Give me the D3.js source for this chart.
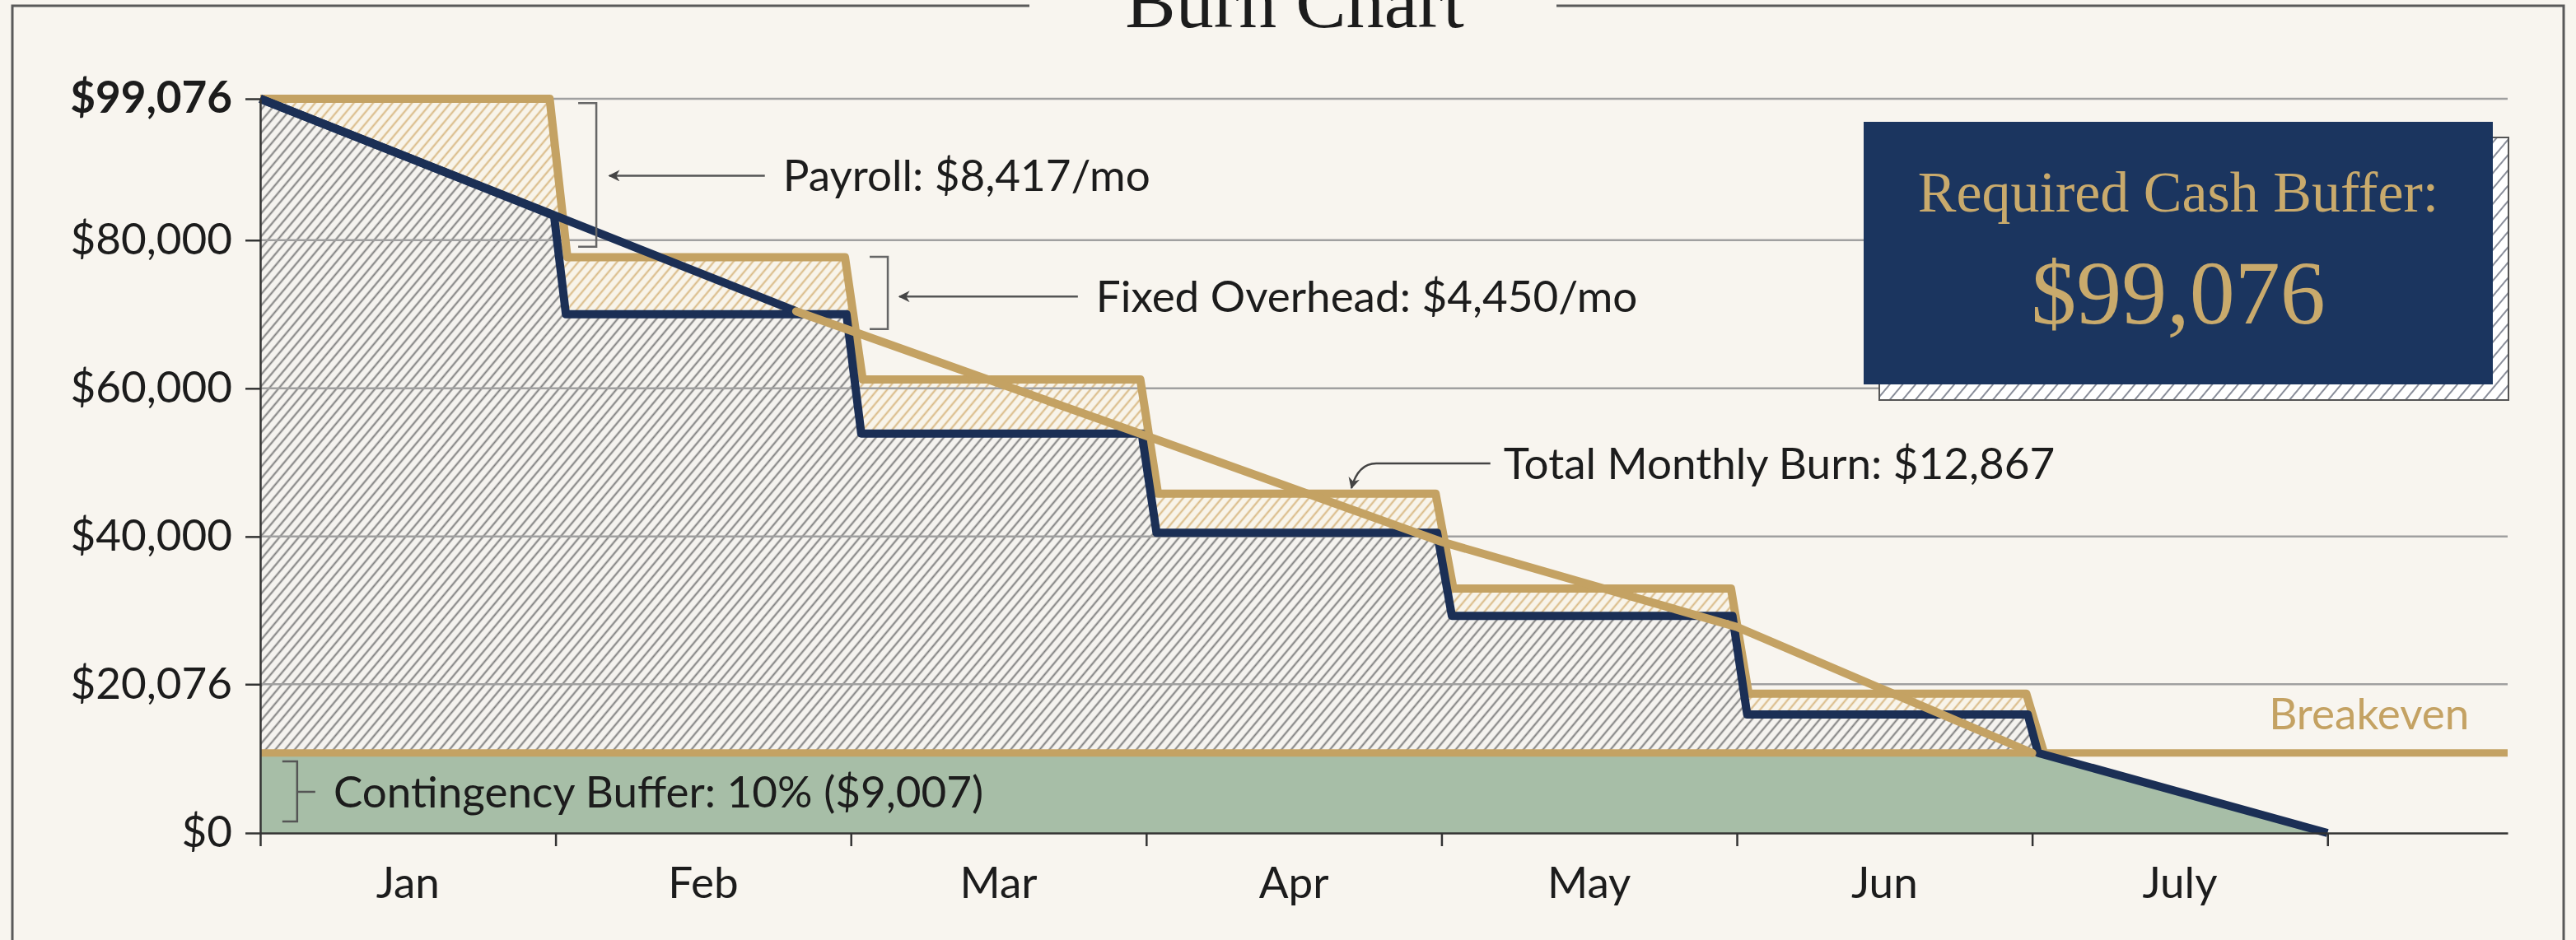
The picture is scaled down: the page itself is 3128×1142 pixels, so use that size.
<!DOCTYPE html>
<html>
<head>
<meta charset="utf-8">
<script src="https://cdn.jsdelivr.net/npm/d3@7"></script>
<style>
  body { margin: 0; background: #f8f5ef; }
  svg { display: block; }
</style>
</head>
<body>
<script>
const months = ['Jan', 'Feb', 'Mar', 'Apr', 'May', 'Jun', 'July'];
const yTickValues = [0, 20076, 40000, 60000, 80000, 99076];
const startCash = 99076;
const breakeven = 10800;
// gold steps: cash on hand at the top of each month (Jan..Jun)
const goldSteps = [99076, 77700, 61200, 45800, 33000, 18800];
// navy steps: balance after the month's spend (Feb..Jun), Jan is a slope
const navyJanEnd = 83300;
const navySteps = [70000, 53900, 40500, 29300, 16000];
// straight burn line, [month, value]
const trendNavy = [[0, 99076], [1, 83300], [1.815, 70400]];
const trendGold = [[1.815, 70400], [3, 53600], [4, 39300], [5, 27800], [6, 10800]];
const runwayEnd = [7, 0];

const width = 3128;
const height = 1142;
const font = 'Lato, "Open Sans", sans-serif';
const serif = '"Liberation Serif", "DejaVu Serif", serif';
const labelSize = 53;
const navy = '#1b2f55';
const gold = '#c4a263';
const ink = '#1c1c1c';

const x = d3.scaleLinear([0, 7.61], [316, 3045]);
const y = d3.scaleLinear([0, startCash], [1012, 120]);

// build the two step lines
const goldPts = [[0, goldSteps[0]]];
goldSteps.forEach((v, i) => {
  if (i > 0) goldPts.push([i + 0.04, v]);
  goldPts.push([i + 1 - 0.02, v]);
});
goldPts.push([6.04, breakeven]);

const navyPts = [[0, startCash], [0.995, navyJanEnd]];
navySteps.forEach((v, i) => {
  navyPts.push([i + 1.035, v]);
  navyPts.push([i + 1.985, v]);
});
navyPts.push([6.02, breakeven]);
navyPts.push(runwayEnd);

const bufferPts = [[0, breakeven], [6.02, breakeven], runwayEnd];

const line = d3.line().x(d => x(d[0])).y(d => y(d[1]));
const area = d3.area().x(d => x(d[0])).y0(y(0)).y1(d => y(d[1]));

const svg = d3.create('svg')
  .attr('width', width)
  .attr('height', height)
  .style('background', '#f8f5ef');

const defs = svg.append('defs');

function hatch(id, stroke, bg, gap, sw) {
  const p = defs.append('pattern')
    .attr('id', id)
    .attr('patternUnits', 'userSpaceOnUse')
    .attr('width', gap)
    .attr('height', gap)
    .attr('patternTransform', 'rotate(40)');
  p.append('rect').attr('width', gap).attr('height', gap).attr('fill', bg);
  p.append('line')
    .attr('x1', gap / 2).attr('x2', gap / 2)
    .attr('y1', 0).attr('y2', gap)
    .attr('stroke', stroke)
    .attr('stroke-width', sw);
}
hatch('hGray', '#7c7c7c', '#f5f3ef', 9, 2);
hatch('hTan', '#d8b883', '#f8f4ea', 9, 2);
hatch('hBox', '#6b7180', '#ffffff', 12, 1.6);

defs.append('marker')
  .attr('id', 'arrow')
  .attr('viewBox', '0 0 10 10')
  .attr('refX', 9)
  .attr('refY', 5)
  .attr('markerUnits', 'userSpaceOnUse')
  .attr('markerWidth', 18)
  .attr('markerHeight', 14)
  .attr('orient', 'auto')
  .append('path')
  .attr('d', 'M0,0 L10,5 L0,10 L3,5 Z')
  .attr('fill', '#444');

// outer frame with a gap for the title
const frame = d3.path();
frame.moveTo(1250, 7); frame.lineTo(15, 7); frame.lineTo(15, height + 10);
frame.moveTo(1890, 7); frame.lineTo(3113, 7); frame.lineTo(3113, height + 10);
svg.append('path')
  .attr('d', frame.toString())
  .attr('fill', 'none')
  .attr('stroke', '#5a5a5a')
  .attr('stroke-width', 3);

svg.append('text')
  .attr('x', 1572)
  .attr('y', 33)
  .attr('text-anchor', 'middle')
  .attr('font-family', serif)
  .attr('font-size', 92)
  .attr('fill', ink)
  .text('Burn Chart');

// hatched fills
svg.append('path')
  .datum(goldPts)
  .attr('d', area)
  .attr('fill', 'url(#hTan)');

svg.append('path')
  .datum(navyPts)
  .attr('d', area)
  .attr('fill', 'url(#hGray)');

// gridlines
svg.append('g')
  .selectAll('line')
  .data(yTickValues.filter(d => d > 0))
  .join('line')
  .attr('x1', x(0))
  .attr('x2', x(7.61))
  .attr('y1', d => y(d))
  .attr('y2', d => y(d))
  .attr('stroke', '#a0a0a0')
  .attr('stroke-width', 2.5);

// contingency buffer
svg.append('path')
  .datum(bufferPts)
  .attr('d', area)
  .attr('fill', '#a7bea7');

// breakeven line
svg.append('line')
  .attr('x1', x(0))
  .attr('x2', x(7.61))
  .attr('y1', y(breakeven))
  .attr('y2', y(breakeven))
  .attr('stroke', gold)
  .attr('stroke-width', 9);

svg.append('path')
  .datum(goldPts)
  .attr('d', line)
  .attr('fill', 'none')
  .attr('stroke', gold)
  .attr('stroke-width', 10)
  .attr('stroke-linejoin', 'round');

svg.append('path')
  .datum(navyPts)
  .attr('d', line)
  .attr('fill', 'none')
  .attr('stroke', navy)
  .attr('stroke-width', 10)
  .attr('stroke-linejoin', 'round');

svg.append('path')
  .datum(trendNavy)
  .attr('d', line)
  .attr('fill', 'none')
  .attr('stroke', navy)
  .attr('stroke-width', 10);

svg.append('path')
  .datum(trendGold)
  .attr('d', line)
  .attr('fill', 'none')
  .attr('stroke', gold)
  .attr('stroke-width', 10)
  .attr('stroke-linecap', 'round');

// callouts with brackets
const callouts = [
  {label: 'Payroll: $8,417/mo', bx: 1.138, top: 98500, bottom: 79100, tip: 1.182, tx: 1.77, ty: 88700},
  {label: 'Fixed Overhead: $4,450/mo', bx: 2.125, top: 77750, bottom: 68000, tip: 2.164, tx: 2.83, ty: 72400},
];

const ann = svg.append('g');
callouts.forEach(c => {
  const b = d3.path();
  b.moveTo(x(c.bx) - 22, y(c.top));
  b.lineTo(x(c.bx), y(c.top));
  b.lineTo(x(c.bx), y(c.bottom));
  b.lineTo(x(c.bx) - 22, y(c.bottom));
  ann.append('path')
    .attr('d', b.toString())
    .attr('fill', 'none')
    .attr('stroke', '#666')
    .attr('stroke-width', 2.5);
  ann.append('line')
    .attr('x1', x(c.tx) - 22)
    .attr('x2', x(c.tip))
    .attr('y1', y(c.ty))
    .attr('y2', y(c.ty))
    .attr('stroke', '#555')
    .attr('stroke-width', 2.5)
    .attr('marker-end', 'url(#arrow)');
  ann.append('text')
    .attr('x', x(c.tx))
    .attr('y', y(c.ty))
    .attr('dy', '0.35em')
    .attr('font-family', font)
    .attr('font-size', labelSize)
    .attr('fill', ink)
    .text(c.label);
});

// total monthly burn leader
const burnAt = {tx: 4.21, ty: 49870, bend: 3.779, tip: [3.695, 46540]};
const leader = d3.path();
leader.moveTo(x(burnAt.tx) - 16, y(burnAt.ty));
leader.lineTo(x(burnAt.bend), y(burnAt.ty));
leader.quadraticCurveTo(x(burnAt.bend) - 22, y(burnAt.ty), x(burnAt.tip[0]), y(burnAt.tip[1]));
ann.append('path')
  .attr('d', leader.toString())
  .attr('fill', 'none')
  .attr('stroke', '#444')
  .attr('stroke-width', 2.5)
  .attr('marker-end', 'url(#arrow)');
ann.append('text')
  .attr('x', x(burnAt.tx))
  .attr('y', y(burnAt.ty))
  .attr('dy', '0.35em')
  .attr('font-family', font)
  .attr('font-size', labelSize)
  .attr('fill', ink)
  .text('Total Monthly Burn: $12,867');

// contingency bracket
const cb = {bx: 0.125, top: 9660, bottom: 1560, mid: 5550, tx: 0.248};
const cp = d3.path();
cp.moveTo(x(cb.bx) - 18, y(cb.top));
cp.lineTo(x(cb.bx), y(cb.top));
cp.lineTo(x(cb.bx), y(cb.bottom));
cp.lineTo(x(cb.bx) - 18, y(cb.bottom));
cp.moveTo(x(cb.bx), y(cb.mid));
cp.lineTo(x(cb.bx) + 22, y(cb.mid));
ann.append('path')
  .attr('d', cp.toString())
  .attr('fill', 'none')
  .attr('stroke', '#555')
  .attr('stroke-width', 2.5);
ann.append('text')
  .attr('x', x(cb.tx))
  .attr('y', y(cb.mid))
  .attr('dy', '0.35em')
  .attr('font-family', font)
  .attr('font-size', labelSize)
  .attr('fill', ink)
  .text('Contingency Buffer: 10% ($9,007)');

ann.append('text')
  .attr('x', x(7.48))
  .attr('y', y(16000))
  .attr('dy', '0.35em')
  .attr('text-anchor', 'end')
  .attr('font-family', font)
  .attr('font-size', labelSize)
  .attr('fill', gold)
  .text('Breakeven');

// required cash buffer panel
const box = {x: 2263, y: 148, w: 764, h: 319, off: 19};
svg.append('rect')
  .attr('x', box.x + box.off)
  .attr('y', box.y + box.off)
  .attr('width', box.w)
  .attr('height', box.h)
  .attr('fill', 'url(#hBox)')
  .attr('stroke', '#555')
  .attr('stroke-width', 2);
svg.append('rect')
  .attr('x', box.x)
  .attr('y', box.y)
  .attr('width', box.w)
  .attr('height', box.h)
  .attr('fill', '#1b355f');
svg.append('text')
  .attr('x', box.x + box.w / 2)
  .attr('y', 257)
  .attr('text-anchor', 'middle')
  .attr('font-family', serif)
  .attr('font-size', 70)
  .attr('fill', '#c9aa6c')
  .text('Required Cash Buffer:');
svg.append('text')
  .attr('x', box.x + box.w / 2)
  .attr('y', 393)
  .attr('text-anchor', 'middle')
  .attr('font-family', serif)
  .attr('font-size', 110)
  .attr('fill', '#c9aa6c')
  .text('$' + d3.format(',')(startCash));

// axes
const yAxis = svg.append('g')
  .attr('transform', `translate(${x(0)},0)`)
  .call(d3.axisLeft(y)
    .tickValues(yTickValues)
    .tickSize(18)
    .tickSizeOuter(0)
    .tickPadding(16)
    .tickFormat(d => '$' + d3.format(',')(d)));
yAxis.selectAll('text')
  .attr('font-family', font)
  .attr('font-size', labelSize)
  .attr('fill', ink)
  .attr('font-weight', d => d === startCash ? 700 : 400);

const xAxis = svg.append('g')
  .attr('transform', `translate(0,${y(0)})`)
  .call(d3.axisBottom(x)
    .tickValues(d3.range(0, 8))
    .tickSize(16)
    .tickSizeOuter(0)
    .tickFormat(''));

svg.selectAll('.domain, .tick line')
  .attr('stroke', '#333')
  .attr('stroke-width', 2.5);

svg.append('g')
  .selectAll('text')
  .data(months)
  .join('text')
  .attr('x', (d, i) => x(i + 0.5))
  .attr('y', 1091)
  .attr('text-anchor', 'middle')
  .attr('font-family', font)
  .attr('font-size', labelSize)
  .attr('fill', ink)
  .text(d => d);

document.body.append(svg.node());
</script>
</body>
</html>
